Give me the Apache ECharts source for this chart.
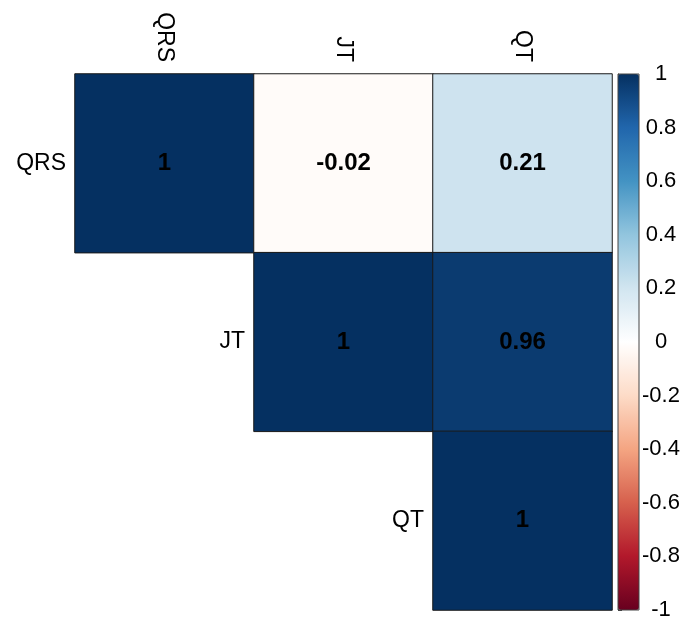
<!DOCTYPE html>
<html>
<head>
<meta charset="utf-8">
<script src="https://cdn.jsdelivr.net/npm/echarts@6/dist/echarts.min.js"></script>
<style>html,body{margin:0;padding:0;background:#fff;}#c{width:684px;height:623px;}</style>
</head>
<body>
<div id="c"></div>
<script>
const variables = ['QRS', 'JT', 'QT'];
// upper-triangle correlation values: [column, row, r]
const corrValues = [
  [0, 0, 1], [1, 0, -0.02], [2, 0, 0.21],
  [1, 1, 1], [2, 1, 0.96],
  [2, 2, 1]
];
const paletteRdBu = ['#67001F', '#B2182B', '#D6604D', '#F4A582', '#FDDBC7', '#FFFFFF',
                     '#D1E5F0', '#92C5DE', '#4393C3', '#2166AC', '#053061'];
const FONT = 'Liberation Sans, Arial, sans-serif';

const chart = echarts.init(document.getElementById('c'), null, {renderer: 'canvas'});
chart.setOption({
  backgroundColor: '#fff',
  animation: false,
  grid: [
    {left: 75, top: 74, width: 537, height: 536, containLabel: false},
    {left: 618, top: 74, width: 21, height: 536, show: true, borderColor: '#444', borderWidth: 1, z: 10}
  ],
  xAxis: [
    {type: 'category', data: variables, position: 'top', gridIndex: 0,
     axisLine: {show: false}, axisTick: {show: false}, splitLine: {show: false},
     axisLabel: {rotate: 90, margin: 12, fontSize: 23, color: '#000', fontFamily: FONT}},
    {type: 'value', gridIndex: 1, show: false, min: 0, max: 1}
  ],
  yAxis: [
    {type: 'category', data: variables, inverse: true, gridIndex: 0,
     axisLine: {show: false}, axisTick: {show: false}, axisLabel: {show: false}, splitLine: {show: false}},
    {type: 'value', gridIndex: 1, min: -1, max: 1, interval: 0.2, position: 'right',
     axisLine: {show: true, lineStyle: {color: '#444'}},
     axisTick: {show: true, length: 4, lineStyle: {color: '#444'}},
     splitLine: {show: false},
     axisLabel: {align: 'center', margin: 22, fontSize: 22, color: '#000', fontFamily: FONT,
       formatter: v => String(Math.round(v * 10) / 10)}}
  ],
  visualMap: {
    type: 'continuous', min: -1, max: 1, seriesIndex: 0, dimension: 2,
    calculable: false, orient: 'vertical', left: 618, top: 74, padding: 0,
    itemWidth: 21, itemHeight: 536, text: null, showLabel: false,
    inRange: {color: paletteRdBu}
  },
  series: [
    {
      type: 'heatmap', xAxisIndex: 0, yAxisIndex: 0, data: corrValues,
      itemStyle: {borderColor: '#1a1a1a', borderWidth: 1},
      label: {show: true, fontSize: 24, fontWeight: 'bold', color: '#000', fontFamily: FONT,
        formatter: p => String(p.value[2])},
      emphasis: {disabled: true}
    },
    {
      type: 'custom', xAxisIndex: 0, yAxisIndex: 0, silent: true,
      data: variables.map((v, i) => [i, i]),
      renderItem: function (params, api) {
        const c = api.coord([api.value(0), api.value(1)]);
        const s = api.size([1, 1]);
        return {
          type: 'text',
          x: c[0] - s[0] / 2 - 9, y: c[1],
          style: {text: variables[params.dataIndex], align: 'right', verticalAlign: 'middle',
                  fontSize: 23, fill: '#000', fontFamily: FONT}
        };
      }
    }
  ]
});
</script>
</body>
</html>
